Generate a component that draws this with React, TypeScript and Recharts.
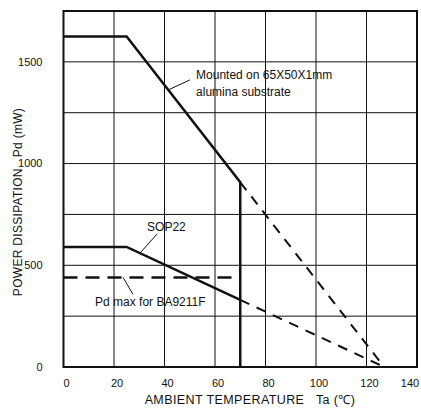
import { CartesianGrid, Label, Line, LineChart, ReferenceArea, ReferenceDot, ReferenceLine, XAxis, YAxis } from 'recharts';

// Derating curves (Ta in °C, Pd in mW).
const mountedTa = [0, 25, 70, 70];
const mountedPd = [1625, 1625, 908, 0];
const mountedDerateTa = [70, 127];
const mountedDeratePd = [908, 0];

const sopTa = [0, 25, 70];
const sopPd = [590, 590, 330];
const sopDerateTa = [70, 127];
const sopDeratePd = [330, 0];

const pdMaxTa = [0, 70];
const pdMaxPd = [440, 440];

const xTicks = [0, 20, 40, 60, 80, 100, 120, 140];
const yTicks = [0, 250, 500, 750, 1000, 1250, 1500, 1750];
const yLabels = [0, 500, 1000, 1500];

const zip = (xs: number[], ys: number[]) => xs.map((x, i) => ({ ta: x, pd: ys[i] }));

const FONT = "'Liberation Sans', Arial, sans-serif";
const INK = '#111';

const textAt = (lines: string[], anchor: 'start' | 'middle' = 'start') =>
  (p: any) => (
    <text x={p.cx} y={p.cy} fontFamily={FONT} fontSize={12} fill={INK} textAnchor={anchor}>
      {lines.map((l, i) => (
        <tspan key={i} x={p.cx} dy={i === 0 ? 0 : 17}>{l}</tspan>
      ))}
    </text>
  );

// x tick labels sit a little right of their grid line; keep the last one inside the frame
const XTick = (p: any) => {
  const cx = Math.min(p.x + 3, 410);
  return (
    <text x={cx} y={p.y + 12} fontFamily={FONT} fontSize={11} fill={INK} textAnchor="middle">
      {p.payload.value}
    </text>
  );
};

export default function App() {
  return (
    <div style={{ position: 'absolute', left: 0, top: 0, background: '#fff' }}>
      <LineChart width={421} height={409} margin={{ top: 11, right: 4, bottom: 0, left: 0 }}>
        <CartesianGrid stroke={INK} strokeWidth={1} />
        <XAxis
          type="number"
          dataKey="ta"
          domain={[0, 140]}
          ticks={xTicks}
          allowDataOverflow
          height={42}
          tickLine={false}
          axisLine={false}
          tick={<XTick />}
          label={
            <Label
              content={() => (
                <text x={250} y={404} fontFamily={FONT} fontSize={12.5} fill={INK} textAnchor="middle" letterSpacing={0.4}>
                  AMBIENT TEMPERATURE{'\u00a0\u00a0\u00a0'}Ta (℃)
                </text>
              )}
            />
          }
        />
        <YAxis
          type="number"
          domain={[0, 1750]}
          ticks={yTicks}
          width={63.5}
          tickLine={false}
          axisLine={false}
          tickMargin={15}
          tickFormatter={(v: number) => (yLabels.includes(v) ? String(v) : '')}
          tick={{ fontSize: 11, fontFamily: FONT, fill: INK }}
          label={
            <Label
              content={() => (
                <text
                  x={0}
                  y={0}
                  transform="translate(22,202) rotate(-90)"
                  fontFamily={FONT}
                  fontSize={12}
                  fill={INK}
                  textAnchor="middle"
                  letterSpacing={0.3}
                >
                  POWER DISSIPATION{'\u00a0\u00a0\u00a0'}Pd (mW)
                </text>
              )}
            />
          }
        />
        <ReferenceArea x1={0} x2={140} y1={0} y2={1750} fill="none" stroke={INK} strokeWidth={2} />

        <Line data={zip(mountedTa, mountedPd)} dataKey="pd" type="linear" stroke={INK} strokeWidth={2.5} dot={false} isAnimationActive={false} />
        <Line data={zip(mountedDerateTa, mountedDeratePd)} dataKey="pd" type="linear" stroke={INK} strokeWidth={2} strokeDasharray="10 8" dot={false} isAnimationActive={false} />
        <Line data={zip(sopTa, sopPd)} dataKey="pd" type="linear" stroke={INK} strokeWidth={2.5} dot={false} isAnimationActive={false} />
        <Line data={zip(sopDerateTa, sopDeratePd)} dataKey="pd" type="linear" stroke={INK} strokeWidth={2} strokeDasharray="10 8" dot={false} isAnimationActive={false} />
        <Line data={zip(pdMaxTa, pdMaxPd)} dataKey="pd" type="linear" stroke={INK} strokeWidth={2.5} strokeDasharray="14 8" dot={false} isAnimationActive={false} />

        {/* leader lines for the annotations */}
        <ReferenceLine segment={[{ x: 41.5, y: 1362 }, { x: 50, y: 1411 }]} stroke={INK} strokeWidth={1} />
        <ReferenceLine segment={[{ x: 37, y: 653 }, { x: 30.3, y: 560 }]} stroke={INK} strokeWidth={1} />
        <ReferenceLine segment={[{ x: 23.6, y: 440 }, { x: 27.5, y: 358 }]} stroke={INK} strokeWidth={1} />

        <ReferenceDot x={52.5} y={1416} r={0} shape={textAt(['Mounted on 65X50X1mm', 'alumina substrate'])} />
        <ReferenceDot x={33.1} y={668} r={0} shape={textAt(['SOP22'])} />
        <ReferenceDot x={12.5} y={299} r={0} shape={textAt(['Pd max for BA9211F'])} />
      </LineChart>
    </div>
  );
}
